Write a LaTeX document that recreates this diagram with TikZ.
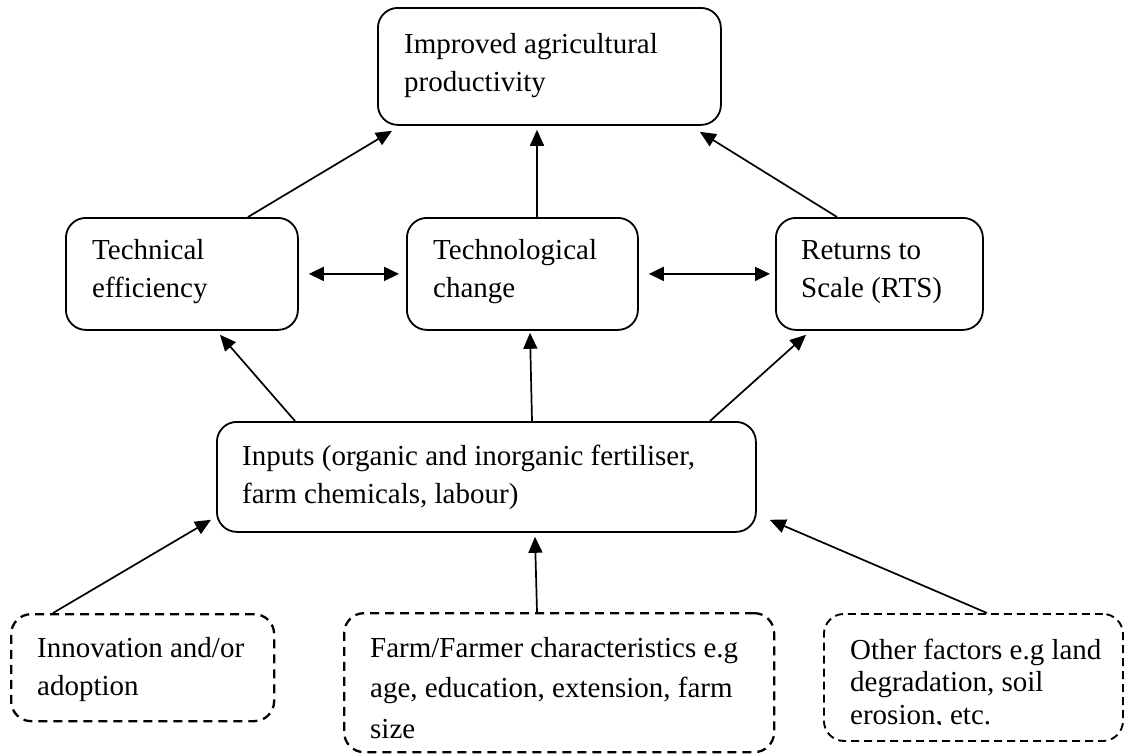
\documentclass[tikz,border=0pt]{standalone}
\usepackage{fontspec}
\setmainfont{Liberation Serif}
\usetikzlibrary{arrows.meta,calc}
\tikzset{
 box/.style={draw, line width=1.8pt, rounded corners=20pt, inner sep=0pt, anchor=north west},
 dbox/.style={draw, line width=2.3pt, dash pattern=on 9pt off 6pt, rounded corners=20pt, inner sep=0pt, anchor=north west},
 txt/.style={inner sep=0pt, anchor=base west, font=\fontsize{29}{38}\selectfont},
 arr/.style={line width=1.7pt, -{Triangle[length=16pt,width=14pt]}},
 darr/.style={line width=1.7pt, {Triangle[length=15pt,width=14pt]}-{Triangle[length=15pt,width=14pt]}},
}
\begin{document}
\begin{tikzpicture}[x=1pt,y=-1pt]
\useasboundingbox (0,0) rectangle (1124,753);
% boxes
\node[box, minimum width=343pt, minimum height=117pt] (top) at (377,7) {};
\node[box, minimum width=232pt, minimum height=112pt] (te) at (65,217) {};
\node[box, minimum width=231pt, minimum height=112pt] (tc) at (406,217) {};
\node[box, minimum width=207pt, minimum height=112pt] (rt) at (775,217) {};
\node[box, minimum width=539pt, minimum height=110pt] (in) at (216,421) {};
\node[dbox, minimum width=263pt, minimum height=107pt] (inn) at (10,613) {};
\node[dbox, minimum width=430pt, minimum height=139pt] (fa) at (343,612) {};
\node[dbox, line width=1.9pt, dash pattern=on 8pt off 5pt, minimum width=299pt, minimum height=127pt] (ot) at (823,613) {};
% texts
\node[txt] (topt) at ([xshift=27pt,yshift=-46pt]top.north west) {\parbox[t]{330pt}{Improved agricultural\\productivity}};
\node[txt] (tet) at ([xshift=27pt,yshift=-42pt]te.north west) {\parbox[t]{200pt}{Technical\\efficiency}};
\node[txt] (tct) at ([xshift=27pt,yshift=-42pt]tc.north west) {\parbox[t]{200pt}{Technological\\change}};
\node[txt] (rtt) at ([xshift=26pt,yshift=-42pt]rt.north west) {\parbox[t]{200pt}{Returns to\\Scale (RTS)}};
\node[txt] (int) at ([xshift=26pt,yshift=-44pt]in.north west) {\parbox[t]{500pt}{Inputs (organic and inorganic fertiliser,\\farm chemicals, labour)}};
\node[txt] (innt) at ([xshift=27pt,yshift=-44pt]inn.north west) {\parbox[t]{240pt}{Innovation and/or\\adoption}};
\begin{scope}
\clip (fa.north west) rectangle ([yshift=14pt]fa.south east);
\node[txt, font=\fontsize{29}{40.5}\selectfont] (fat) at ([xshift=27pt,yshift=-45pt]fa.north west) {\parbox[t]{400pt}{Farm/Farmer characteristics e.g\\age, education, extension, farm\\size}};
\end{scope}
\begin{scope}
\clip (ot.north west) rectangle ([yshift=17pt]ot.south east);
\node[txt, font=\fontsize{29}{32.5}\selectfont] (ott) at ([xshift=27pt,yshift=-46pt]ot.north west) {\parbox[t]{270pt}{Other factors e.g land\\degradation, soil\\erosion, etc.}};
\end{scope}
% connectors
\draw[arr] ([xshift=183pt]te.north west) -- ([xshift=15pt,yshift=-5pt]top.south west);
\draw[arr] ([xshift=131pt]tc.north west) -- ([xshift=160pt,yshift=-4pt]top.south west);
\draw[arr] ([xshift=62pt]rt.north west) -- ([xshift=-22pt,yshift=-6pt]top.south east);
\draw[darr] ([xshift=10pt]te.east) -- ([xshift=-7pt]tc.west);
\draw[darr] ([xshift=10pt]tc.east) -- ([xshift=-5pt]rt.west);
\draw[arr] ([xshift=79pt]in.north west) -- ([xshift=155pt,yshift=-4pt]te.south west);
\draw[arr] ([xshift=316pt]in.north west) -- ([xshift=124pt,yshift=-2pt]tc.south west);
\draw[arr] ([xshift=494pt]in.north west) -- ([xshift=31pt,yshift=-4pt]rt.south west);
\draw[arr] ([xshift=43pt]inn.north west) -- ([xshift=-5pt,yshift=13pt]in.south west);
\draw[arr] ([xshift=194pt]fa.north west) -- ([xshift=319pt,yshift=-4pt]in.south west);
\draw[arr] ([xshift=164pt]ot.north west) -- ([xshift=13pt,yshift=13pt]in.south east);
\end{tikzpicture}
\end{document}
